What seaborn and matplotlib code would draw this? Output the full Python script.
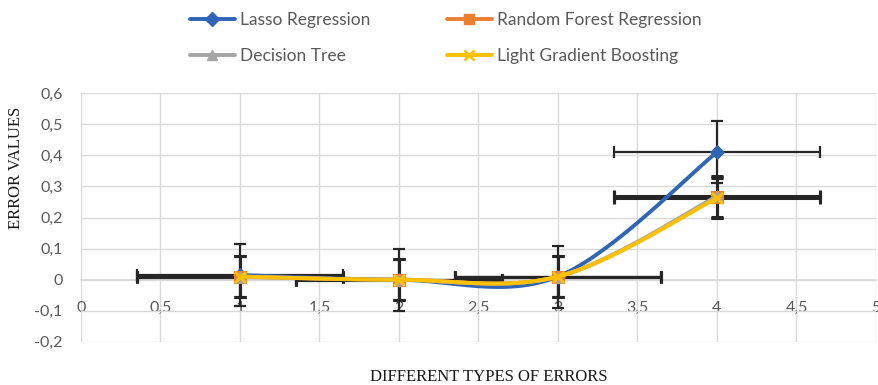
import numpy as np
import pandas as pd
import matplotlib
matplotlib.use("Agg")
import matplotlib.pyplot as plt
from matplotlib.lines import Line2D
import seaborn as sns

# Error types on the x axis and error values per model
error_types = [1, 2, 3, 4]
lasso = [0.015, 0.0, 0.01, 0.41]
random_forest = [0.01, 0.0, 0.01, 0.265]
decision_tree = [0.01, 0.0, 0.01, 0.268]
light_gbm = [0.01, 0.0, 0.01, 0.262]

# Error bar sizes (x and y) per model
lasso_xerr, lasso_yerr = 0.65, 0.1
other_xerr, other_yerr = 0.65, 0.065

series_names = ["Lasso Regression", "Random Forest Regression",
                "Decision Tree", "Light Gradient Boosting"]

x_ticks = [0, 0.5, 1, 1.5, 2, 2.5, 3, 3.5, 4, 4.5, 5]
y_ticks = [-0.2, -0.1, 0, 0.1, 0.2, 0.3, 0.4, 0.5, 0.6]


def comma(v):
    s = f"{v:g}"
    return s.replace(".", ",")


def smooth(xs, ys, n=40):
    """Bezier smoothing through the points (spreadsheet-style smoothed line)."""
    px = np.asarray(xs, float)
    py = np.asarray(ys, float)
    k = len(px)
    out_x, out_y = [], []
    t = np.linspace(0, 1, n)
    for i in range(k - 1):
        i0, i1, i2, i3 = max(i - 1, 0), i, i + 1, min(i + 2, k - 1)
        c1x = px[i1] + (px[i2] - px[i0]) / 6
        c1y = py[i1] + (py[i2] - py[i0]) / 6
        c2x = px[i2] - (px[i3] - px[i1]) / 6
        c2y = py[i2] - (py[i3] - py[i1]) / 6
        bx = ((1 - t) ** 3 * px[i1] + 3 * (1 - t) ** 2 * t * c1x
              + 3 * (1 - t) * t ** 2 * c2x + t ** 3 * px[i2])
        by = ((1 - t) ** 3 * py[i1] + 3 * (1 - t) ** 2 * t * c1y
              + 3 * (1 - t) * t ** 2 * c2y + t ** 3 * py[i2])
        if i > 0:
            bx, by = bx[1:], by[1:]
        out_x.extend(bx)
        out_y.extend(by)
    return np.array(out_x), np.array(out_y)


sns.set_theme(style="white")
plt.rcParams["font.family"] = ["Lato", "DejaVu Sans"]

fig = plt.figure(figsize=(8.79, 3.85), dpi=100)
ax = fig.add_axes([0.092, 0.112, 0.9046, 0.646])

grid_c = "#d9d9d9"
text_c = "#595959"
err_c = "#262626"

styles = [
    dict(name=series_names[0], y=lasso, color="#3064B4", marker="D", ms=7,
         xerr=lasso_xerr, yerr=lasso_yerr, elw=1.6),
    dict(name=series_names[1], y=random_forest, color="#ED7D31", marker="s", ms=9,
         xerr=other_xerr, yerr=other_yerr, elw=2.2),
    dict(name=series_names[2], y=decision_tree, color="#A5A5A5", marker="^", ms=8,
         xerr=other_xerr, yerr=other_yerr, elw=2.2),
    dict(name=series_names[3], y=light_gbm, color="#FFC000", marker="x", ms=8,
         xerr=other_xerr, yerr=other_yerr, elw=2.2),
]

# Error bars sit under the lines
for s in styles:
    ax.errorbar(error_types, s["y"], xerr=s["xerr"], yerr=s["yerr"], fmt="none",
                ecolor=err_c, elinewidth=s["elw"], capsize=4, capthick=s["elw"],
                zorder=2)

# Smoothed lines and markers
for k, s in enumerate(styles):
    sx, sy = smooth(error_types, s["y"])
    curve = pd.DataFrame({"x": sx, "y": sy})
    sns.lineplot(data=curve, x="x", y="y", sort=False, estimator=None,
                 color=s["color"], linewidth=2.8, ax=ax, zorder=3 + k)
    pts = pd.DataFrame({"x": error_types, "y": s["y"]})
    if s["marker"] == "x":
        sns.scatterplot(data=pts, x="x", y="y", marker="x", s=s["ms"] ** 2,
                        color=s["color"], linewidth=2, ax=ax, zorder=3.5 + k)
    else:
        sns.scatterplot(data=pts, x="x", y="y", marker=s["marker"], s=s["ms"] ** 2,
                        color=s["color"], edgecolor=s["color"], linewidth=0.8,
                        ax=ax, zorder=3.5 + k)

ax.set_xlim(0, 5)
ax.set_ylim(-0.2, 0.6)
ax.set_xticks(x_ticks)
ax.set_xticklabels([comma(v) for v in x_ticks])
ax.set_yticks(y_ticks)
ax.set_yticklabels([comma(round(v, 1)) for v in y_ticks])
ax.grid(True, color=grid_c, linewidth=1.0)
ax.set_axisbelow(True)

for side in ["top", "right", "left"]:
    ax.spines[side].set_visible(False)
ax.spines["bottom"].set_position(("data", 0))
ax.spines["bottom"].set_color(grid_c)
ax.spines["bottom"].set_zorder(0.5)
ax.tick_params(axis="x", length=0, pad=15, labelsize=11.5, labelcolor=text_c)
ax.tick_params(axis="y", length=0, pad=13, labelsize=11.5, labelcolor=text_c)

ax.set_xlabel("")
ax.set_ylabel("")
fig.text(0.018, 0.565, "ERROR VALUES", rotation=90, ha="center", va="center",
         fontsize=12, family="Liberation Serif", color="#1a1a1a")
fig.text(0.556, 0.022, "DIFFERENT TYPES OF ERRORS", ha="center", va="center",
         fontsize=12, family="Liberation Serif", color="#1a1a1a")

handles = []
for s in styles:
    if s["marker"] == "x":
        h = Line2D([], [], color=s["color"], lw=2.8, marker="x", ms=7, mew=2)
    else:
        h = Line2D([], [], color=s["color"], lw=2.8, marker=s["marker"], ms=7,
                   mec=s["color"])
    handles.append(h)
order = [0, 2, 1, 3]
fig.legend([handles[i] for i in order], [styles[i]["name"] for i in order],
           loc="upper left", bbox_to_anchor=(0.198, 1.01), ncol=2, frameon=False,
           fontsize=12.5, labelcolor=text_c, handlelength=2.6, handletextpad=0.3,
           columnspacing=4.4, labelspacing=1.15)

fig.savefig("out.png", dpi=100)
